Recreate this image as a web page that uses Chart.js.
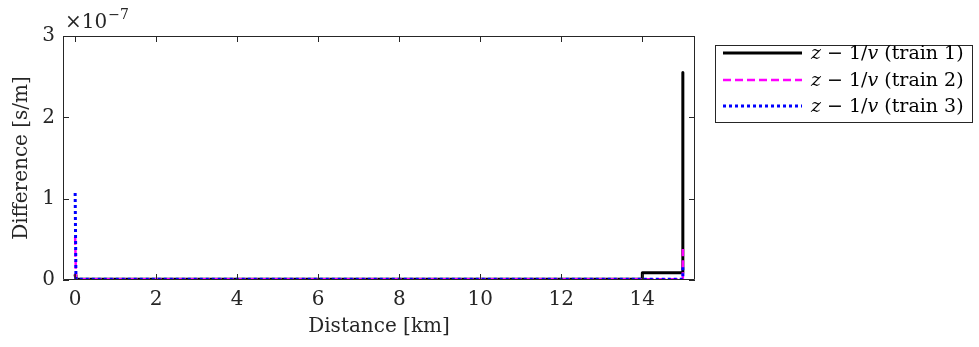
<!DOCTYPE html>
<html>
<head>
<meta charset="utf-8">
<script src="https://cdn.jsdelivr.net/npm/chart.js@4.4.1/dist/chart.umd.min.js"></script>
<style>
  html, body { margin: 0; padding: 0; background: #fff; }
  #wrap { width: 979px; height: 347px; position: relative; }
</style>
</head>
<body>
<div id="wrap"><canvas id="diff-chart" width="979" height="347"></canvas></div>
<script>
// difference z - 1/v along the line, in s/m (plotted in units of 1e-7)
const SCALE = 1e-7;

const train1Dist = [0, 0.02, 14, 14, 15, 15];
const train1Diff = [0.06e-7, 0.01e-7, 0.01e-7, 0.09e-7, 0.09e-7, 2.55e-7];

const train2Dist = [0, 0.02, 15, 15];
const train2Diff = [0.53e-7, 0.01e-7, 0.01e-7, 0.38e-7];

const train3Dist = [0, 0.02, 15, 15];
const train3Diff = [1.07e-7, 0.01e-7, 0.01e-7, 0.16e-7];

const xTicks = [0, 2, 4, 6, 8, 10, 12, 14];
const yTicks = [0, 1e-7, 2e-7, 3e-7];

const seriesNames = ['train 1', 'train 2', 'train 3'];
const seriesColors = ['#000000', '#ff00ff', '#0000ff'];
const seriesDash = [[], [8, 4], [3, 3]];
const seriesWidth = [3, 2.5, 3];

const FONT = '"DejaVu Serif", "Liberation Serif", serif';

function toPoints(xs, ys) {
    return xs.map((x, i) => ({x: x, y: ys[i]}));
}

const datasets = [
    toPoints(train1Dist, train1Diff),
    toPoints(train2Dist, train2Diff),
    toPoints(train3Dist, train3Diff)
].map((pts, i) => ({
    label: seriesNames[i],
    data: pts,
    borderColor: seriesColors[i],
    borderWidth: seriesWidth[i],
    borderDash: seriesDash[i],
    borderJoinStyle: 'round',
    borderCapStyle: i === 0 ? 'round' : 'butt',
    pointRadius: 0,
    fill: false,
    tension: 0,
    order: 3 - i
}));

// box around the axes with inward ticks on all four sides, plus the exponent label
const boxPlugin = {
    id: 'box',
    afterDraw(chart) {
        const {ctx, chartArea: a, scales} = chart;
        ctx.save();
        ctx.strokeStyle = '#262626';
        ctx.lineWidth = 1;
        ctx.beginPath();
        ctx.rect(a.left + 0.5, a.top + 0.5, a.right - a.left - 1, a.bottom - a.top - 1);
        ctx.stroke();
        const tl = 6;
        ctx.beginPath();
        xTicks.forEach(t => {
            const px = Math.round(scales.x.getPixelForValue(t)) + 0.5;
            ctx.moveTo(px, a.bottom); ctx.lineTo(px, a.bottom - tl);
            ctx.moveTo(px, a.top); ctx.lineTo(px, a.top + tl);
        });
        yTicks.forEach(t => {
            const py = Math.round(scales.y.getPixelForValue(t)) + 0.5;
            ctx.moveTo(a.left, py); ctx.lineTo(a.left + tl, py);
            ctx.moveTo(a.right, py); ctx.lineTo(a.right - tl, py);
        });
        ctx.stroke();

        // ×10^-7
        ctx.fillStyle = '#262626';
        ctx.textBaseline = 'alphabetic';
        ctx.textAlign = 'left';
        ctx.font = '20px ' + FONT;
        ctx.fillText('\u00d710', a.left + 2, a.top - 8);
        const w = ctx.measureText('\u00d710').width;
        ctx.font = '14px ' + FONT;
        ctx.fillText('\u22127', a.left + 2 + w + 1, a.top - 17);
        ctx.restore();
    }
};

// legend box to the right of the axes
const legendPlugin = {
    id: 'sideLegend',
    afterDraw(chart) {
        const {ctx} = chart;
        const bx = 715, by = 45, bw = 257, bh = 77;
        ctx.save();
        ctx.fillStyle = '#fff';
        ctx.fillRect(bx, by, bw, bh);
        ctx.strokeStyle = '#262626';
        ctx.lineWidth = 1;
        ctx.strokeRect(bx + 0.5, by + 0.5, bw, bh);
        const rowY = [53, 80, 106];
        seriesNames.forEach((name, i) => {
            const y = rowY[i];
            ctx.strokeStyle = seriesColors[i];
            ctx.lineWidth = seriesWidth[i];
            ctx.setLineDash(seriesDash[i]);
            ctx.beginPath();
            ctx.moveTo(723, y);
            ctx.lineTo(802, y);
            ctx.stroke();
            ctx.setLineDash([]);

            ctx.fillStyle = '#000';
            ctx.textBaseline = 'middle';
            ctx.textAlign = 'left';
            let x = 811;
            const parts = [
                ['italic', 'z'],
                ['normal', ' \u2212 1/'],
                ['italic', 'v'],
                ['normal', ' (' + name + ')']
            ];
            parts.forEach(([style, txt]) => {
                ctx.font = style + ' 19px ' + FONT;
                ctx.fillText(txt, x, y + 1);
                x += ctx.measureText(txt).width;
            });
        });
        ctx.restore();
    }
};

new Chart(document.getElementById('diff-chart'), {
    type: 'line',
    data: {datasets: datasets},
    plugins: [boxPlugin, legendPlugin],
    options: {
        responsive: false,
        animation: false,
        layout: {padding: {left: 0, right: 284, top: 36, bottom: 0}},
        plugins: {legend: {display: false}, tooltip: {enabled: false}},
        scales: {
            x: {
                type: 'linear',
                min: -0.3,
                max: 15.3,
                afterBuildTicks: s => { s.ticks = xTicks.map(v => ({value: v})); },
                afterFit: s => { s.height = 67; },
                grid: {display: false, drawTicks: false},
                border: {display: false},
                ticks: {
                    color: '#262626',
                    padding: 8,
                    font: {family: FONT, size: 20},
                    callback: v => String(v)
                },
                title: {
                    display: true,
                    text: 'Distance [km]',
                    color: '#262626',
                    font: {family: FONT, size: 20},
                    padding: {top: 0, bottom: 8}
                }
            },
            y: {
                type: 'linear',
                min: 0,
                max: 3e-7,
                afterBuildTicks: s => { s.ticks = yTicks.map(v => ({value: v})); },
                afterFit: s => { s.width = 63; },
                grid: {display: false, drawTicks: false},
                border: {display: false},
                ticks: {
                    color: '#262626',
                    padding: 8,
                    font: {family: FONT, size: 20},
                    callback: v => String(Math.round(v / SCALE))
                },
                title: {
                    display: true,
                    text: 'Difference [s/m]',
                    color: '#262626',
                    font: {family: FONT, size: 20},
                    padding: {top: 10, bottom: 0}
                }
            }
        }
    }
});
</script>
</body>
</html>
